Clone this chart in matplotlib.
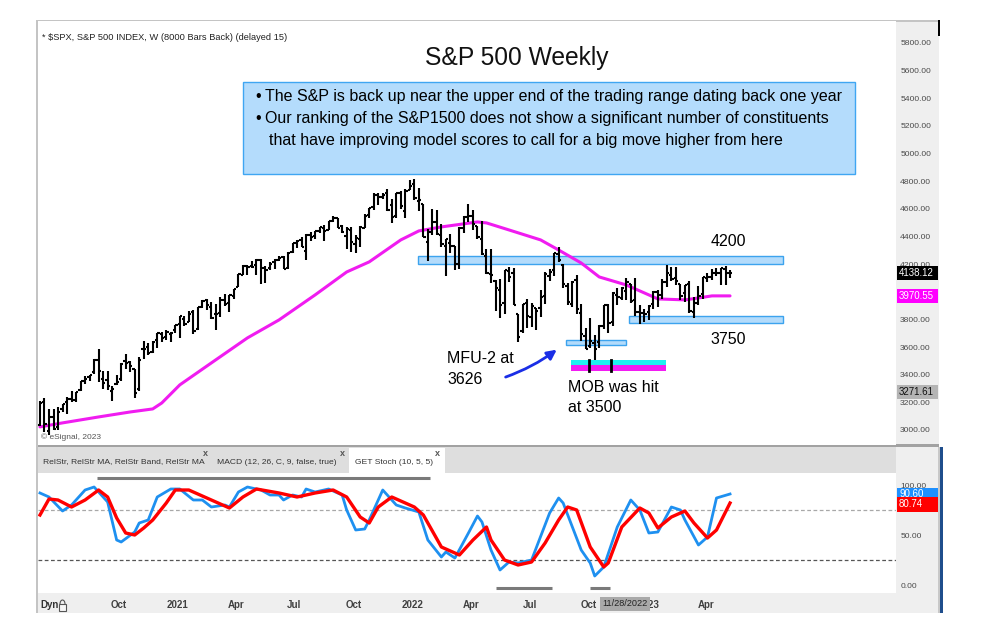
import pandas as pd
import matplotlib
matplotlib.use("Agg")
import matplotlib.pyplot as plt
from matplotlib import font_manager as fm
from matplotlib.collections import LineCollection
from matplotlib.patches import Rectangle, Arc, FancyArrowPatch

# weekly S&P 500 bars, first bar is the week of 2020-06-01
first_week = "2020-06-01"
opens = [
    3038, 3199, 2994, 3095, 3018, 3155, 3205, 3224, 3219, 3289,
    3356, 3380, 3419, 3509, 3371, 3363, 3285, 3334, 3367, 3500,
    3494, 3441, 3296, 3583, 3601, 3566, 3654, 3694, 3675, 3693,
    3723, 3764, 3803, 3781, 3856, 3732, 3892, 3939, 3886, 3842,
    3844, 3942, 3916, 3969, 4034, 4124, 4185, 4186, 4192, 4229,
    4169, 4170, 4216, 4230, 4248, 4173, 4285, 4356, 4372, 4296,
    4409, 4406, 4438, 4462, 4450, 4514, 4535, 4474, 4402, 4449,
    4348, 4385, 4464, 4553, 4610, 4701, 4689, 4712, 4628, 4548,
    4711, 4587, 4733, 4778, 4656, 4632, 4357, 4432, 4505, 4412,
    4332, 4354, 4328, 4202, 4462, 4541, 4547, 4474, 4385, 4256,
    4130, 4081, 4013, 3920, 4151, 4134, 3838, 3715, 3920, 3818,
    3880, 3883, 3966, 4113, 4155, 4270, 4195, 4041, 3909, 4084,
    3846, 3682, 3610, 3628, 3634, 3754, 3901, 3780, 3977, 3956,
    4005, 4053, 3939, 3853, 3843, 3853, 3911, 3999, 3979, 4070,
    4119, 4100, 4053, 3992, 4055, 3855, 3917, 3982, 4103, 4110,
    4139, 4134, 4166, 4136,
]
highs = [
    3211, 3233, 3155, 3155, 3165, 3187, 3236, 3280, 3272, 3352,
    3387, 3399, 3510, 3588, 3426, 3428, 3320, 3397, 3482, 3550,
    3502, 3441, 3529, 3646, 3628, 3644, 3701, 3712, 3726, 3712,
    3760, 3827, 3823, 3860, 3870, 3887, 3937, 3950, 3928, 3914,
    3960, 3983, 3978, 4020, 4130, 4191, 4195, 4219, 4238, 4238,
    4186, 4213, 4234, 4255, 4262, 4286, 4356, 4372, 4393, 4415,
    4430, 4440, 4469, 4480, 4510, 4546, 4536, 4485, 4466, 4466,
    4412, 4475, 4559, 4608, 4718, 4714, 4718, 4744, 4672, 4713,
    4732, 4740, 4808, 4819, 4749, 4632, 4453, 4596, 4590, 4490,
    4385, 4416, 4329, 4465, 4546, 4637, 4593, 4475, 4513, 4308,
    4307, 4082, 4090, 4158, 4178, 4169, 3838, 3913, 3946, 3919,
    3880, 4013, 4140, 4167, 4281, 4325, 4204, 4063, 4077, 4119,
    3913, 3736, 3807, 3685, 3762, 3905, 3912, 4001, 4029, 4034,
    4101, 4053, 4101, 3906, 3878, 3906, 4003, 4015, 4094, 4195,
    4176, 4176, 4053, 4048, 4079, 3965, 4039, 4110, 4133, 4164,
    4170, 4170, 4187, 4155,
]
lows = [
    3031, 2984, 2966, 2999, 2999, 3128, 3116, 3200, 3204, 3284,
    3329, 3354, 3405, 3349, 3293, 3292, 3209, 3323, 3354, 3440,
    3417, 3234, 3280, 3511, 3543, 3555, 3594, 3633, 3648, 3636,
    3704, 3663, 3749, 3779, 3694, 3726, 3884, 3866, 3805, 3723,
    3819, 3894, 3853, 3944, 4034, 4118, 4119, 4175, 4124, 4056,
    4061, 4155, 4167, 4220, 4165, 4165, 4279, 4320, 4321, 4233,
    4367, 4385, 4425, 4368, 4450, 4508, 4459, 4427, 4306, 4288,
    4279, 4323, 4459, 4537, 4595, 4630, 4672, 4586, 4495, 4532,
    4600, 4531, 4733, 4662, 4582, 4395, 4222, 4414, 4410, 4327,
    4115, 4279, 4157, 4161, 4425, 4507, 4450, 4381, 4269, 4128,
    4062, 3859, 3811, 3838, 4074, 3901, 3637, 3705, 3741, 3742,
    3721, 3818, 3911, 4080, 4117, 4218, 4029, 3907, 3887, 3838,
    3647, 3584, 3590, 3492, 3590, 3733, 3698, 3751, 3906, 3938,
    3937, 3918, 3827, 3764, 3784, 3794, 3877, 3886, 3950, 4037,
    4079, 4048, 3943, 3925, 3847, 3809, 3901, 3951, 4069, 4086,
    4114, 4049, 4048, 4099,
]
closes = [
    3193, 3041, 3097, 3009, 3130, 3185, 3224, 3215, 3271, 3351,
    3372, 3397, 3508, 3426, 3341, 3319, 3298, 3348, 3477, 3484,
    3465, 3270, 3509, 3585, 3558, 3638, 3699, 3663, 3709, 3703,
    3756, 3825, 3768, 3841, 3714, 3887, 3934, 3907, 3811, 3842,
    3943, 3913, 3975, 4020, 4129, 4185, 4180, 4181, 4233, 4174,
    4156, 4204, 4230, 4247, 4166, 4281, 4352, 4370, 4327, 4412,
    4395, 4437, 4468, 4442, 4509, 4535, 4459, 4433, 4455, 4357,
    4391, 4471, 4545, 4605, 4697, 4683, 4698, 4595, 4538, 4712,
    4620, 4726, 4766, 4677, 4663, 4398, 4432, 4501, 4419, 4349,
    4385, 4329, 4204, 4463, 4543, 4546, 4488, 4393, 4272, 4132,
    4123, 4024, 3901, 4158, 4109, 3901, 3675, 3912, 3825, 3899,
    3863, 3962, 4130, 4145, 4280, 4228, 4058, 3924, 4067, 3873,
    3693, 3586, 3640, 3583, 3753, 3901, 3771, 3993, 3965, 4026,
    4072, 3934, 3852, 3845, 3840, 3895, 3999, 3973, 4071, 4136,
    4090, 4079, 3970, 4046, 3862, 3917, 3971, 4109, 4105, 4138,
    4133, 4169, 4136, 4138,
]

# moving average (week index, value)
ma_weeks = [0, 5, 13, 20, 25, 27, 31, 38, 46, 53, 61, 68, 73, 80, 84, 89, 97, 99,
            104, 111, 115, 120, 124, 130, 135, 137, 143, 146, 149, 153]
ma_vals = [3022, 3051, 3094, 3130, 3152, 3195, 3326, 3485, 3666, 3796, 3977, 4143,
           4216, 4375, 4440, 4469, 4505, 4498, 4447, 4375, 4302, 4208, 4107, 4049,
           3977, 3948, 3941, 3955, 3970, 3970]

# GET Stoch (10, 5, 5): %K (blue) and %D (red)
k_weeks = [0, 2, 5, 7, 10, 12, 15, 17, 18, 21, 22, 24, 26, 29, 31, 34, 36, 38, 41, 42,
           44, 46, 49, 51, 53, 54, 56, 58, 59, 61, 64, 67, 68, 70, 72, 73, 76, 77, 79, 81,
           84, 86, 89, 90, 92, 95, 97, 98, 100, 102, 104, 106, 109, 113, 115, 116, 120,
           122, 123, 125, 128, 131, 133, 135, 137, 140, 142, 143, 146, 148, 150, 153]
k_vals = [92, 88, 74, 80, 95, 98, 83, 45, 43, 53, 62, 65, 88, 96, 96, 85, 85, 78, 80, 78,
          93, 98, 95, 90, 90, 85, 90, 88, 96, 93, 96, 90, 75, 55, 56, 65, 95, 90, 80, 77,
          73, 45, 28, 33, 27, 52, 69, 63, 35, 15, 23, 22, 25, 72, 87, 82, 35,
          22, 9, 18, 58, 85, 75, 52, 53, 78, 75, 65, 40, 48, 87, 91]
d_weeks = [0, 2, 4, 7, 10, 13, 15, 17, 19, 21, 23, 25, 28, 30, 33, 37, 42, 45, 48, 53,
           57, 61, 65, 68, 71, 73, 75, 78, 83, 85, 89, 93, 96, 99, 100, 103, 106, 109,
           112, 115, 117, 119, 122, 125, 126, 129, 133, 135, 137, 140, 143, 145, 148,
           150, 153]
d_vals = [70, 86, 85, 78, 85, 95, 88, 67, 52, 50, 57, 65, 82, 95, 95, 87, 77, 88, 96, 92,
          88, 92, 95, 88, 68, 62, 78, 88, 78, 70, 38, 30, 45, 58, 45, 25, 20, 23,
          42, 65, 78, 75, 38, 18, 22, 58, 77, 72, 57, 68, 74, 62, 47,
          55, 82]

# 4000.00 sits under the MA tag on the original, so it is left out
price_ticks = [3000, 3200, 3400, 3600, 3800, 4200, 4400, 4600, 4800, 5000,
               5200, 5400, 5600, 5800]
stoch_ticks = [0, 50, 100]
date_ticks = ["2020-10-01", "2021-01-01", "2021-04-01", "2021-07-01", "2021-10-01",
              "2022-01-01", "2022-04-01", "2022-07-01", "2022-10-01", "2023-01-01",
              "2023-04-01"]
date_labels = ["Oct", "2021", "Apr", "Jul", "Oct", "2022", "Apr", "Jul", "Oct", "2023", "Apr"]

# zones drawn on the chart: (low, high, start, end)
resistance = (4200, 4260, "2022-01-08", "2023-07-29")
support = (3775, 3825, "2022-12-02", "2023-07-29")
mfu_zone = (3615, 3651, "2022-08-26", "2022-11-28")
mob_cyan = (3470, 3506, "2022-09-03", "2023-01-29")
mob_magenta = (3427, 3470, "2022-09-03", "2023-01-29")
mob_marks = ["2022-10-01", "2022-11-04"]
overbought_runs = [("2020-08-28", "2022-01-27")]
oversold_runs = [("2022-05-10", "2022-08-05"), ("2022-10-03", "2022-11-03")]

last_price = 4138.12
last_ma = 3970.55
other_tag = 3271.61
last_k = 90.60
last_d = 80.74


def pick_font(names):
    for n in names:
        try:
            fm.findfont(fm.FontProperties(family=n), fallback_to_default=False)
            return n
        except ValueError:
            pass
    return "DejaVu Sans"


NARROW = pick_font(["Liberation Sans Narrow", "Arial Narrow", "Liberation Sans"])
SANS = pick_font(["Liberation Sans", "Arial"])
shrink = 1.0 if "Narrow" in NARROW else 0.86


def wk(d):
    return (pd.Timestamp(d) - pd.Timestamp(first_week)).days / 7.0


W, H = 985, 627
fig = plt.figure(figsize=(W / 100, H / 100), dpi=100)


def px_rect(x0, y0, x1, y1, color, z=-5):
    fig.add_artist(Rectangle((x0 / W, 1 - y1 / H), (x1 - x0) / W, (y1 - y0) / H,
                             transform=fig.transFigure, fc=color, ec="none", zorder=z))


def px_text(x, y, s, **kw):
    kw.setdefault("family", NARROW)
    return fig.text(x / W, 1 - y / H, s, **kw)


# panel backgrounds and frame
px_rect(896, 21, 939, 613, "#efefef")
px_rect(38, 593, 939, 613, "#efefef")
px_rect(38, 447, 896, 473, "#dedede")
px_rect(349, 448, 445, 473, "white")
px_rect(37, 444, 939, 447, "#a2a2a2")
px_rect(36, 20, 38, 613, "#c4c4c4")
px_rect(36, 20, 939, 22, "#c4c4c4")
px_rect(938, 20, 940, 36, "black", z=-4)
px_rect(938, 447, 939.5, 613, "#c8c8c8", z=-4)
px_rect(940, 447, 943, 613, "#1f4e8c", z=-4)

ax = fig.add_axes([38 / W, 1 - 445 / H, 858 / W, 424 / H])
ax2 = fig.add_axes([38 / W, 1 - 593 / H, 858 / W, 120 / H])
x_left, x_right = -0.44, 189.8
for a in (ax, ax2):
    a.set_xlim(x_left, x_right)
    for sp in a.spines.values():
        sp.set_visible(False)
    a.yaxis.tick_right()
    a.tick_params(axis="y", length=0, pad=3, labelsize=6.5 * shrink + 0.5, labelcolor="#4a4a4a")
ax.set_ylim(2891, 5959)
ax2.set_ylim(-8, 112)

ax.set_xticks([])
ax.set_yticks(price_ticks, [f"{v:.2f}" for v in price_ticks], family=SANS)
ax2.set_yticks(stoch_ticks, [f"{v:.2f}" for v in stoch_ticks], family=SANS)
ax2.set_xticks([wk(d) for d in date_ticks], date_labels, family=SANS, fontweight="bold")
ax2.tick_params(axis="x", length=0, pad=5, labelsize=7, labelcolor="#404040")


# zones
def zone(a, z, fc, ec, zorder=1):
    lo, hi, s, e = z
    a.add_patch(Rectangle((wk(s), lo), wk(e) - wk(s), hi - lo, fc=fc, ec=ec, lw=1, zorder=zorder))


zone(ax, resistance, "#b3dbfb", "#3ca3ee")
zone(ax, support, "#b3dbfb", "#3ca3ee")
zone(ax, mfu_zone, "#b3dbfb", "#3ca3ee")
zone(ax, mob_cyan, "#1ff0f0", "none", zorder=4)
zone(ax, mob_magenta, "#f21cf2", "none", zorder=4)
for d in mob_marks:
    ax.plot([wk(d), wk(d)], [mob_magenta[0], mob_cyan[1]], color="black", lw=2, zorder=5)

# moving average
ax.plot(ma_weeks, ma_vals, color="#f01cf0", lw=2.2, zorder=2, solid_capstyle="round")

# OHLC bars
segs = []
tick = 0.5
for i in range(len(closes)):
    segs.append([(i, lows[i]), (i, highs[i])])
    segs.append([(i - tick, opens[i]), (i, opens[i])])
    segs.append([(i, closes[i]), (i + tick, closes[i])])
ax.add_collection(LineCollection(segs, colors="black", linewidths=1.5, zorder=3))

# stochastic panel
ax2.axhline(75, color="#a8a8a8", lw=0.9, ls=(0, (3, 2)), zorder=1)
ax2.axhline(25, color="#555555", lw=0.9, ls=(0, (3, 2)), zorder=1)
ax2.plot(k_weeks, k_vals, color="#1e90f0", lw=2, zorder=3)
ax2.plot(d_weeks, d_vals, color="#ff0000", lw=2.4, zorder=4)
for s, e in overbought_runs:
    ax2.plot([wk(s), wk(e)], [107, 107], color="#7a7a7a", lw=2.2, solid_capstyle="butt")
for s, e in oversold_runs:
    ax2.plot([wk(s), wk(e)], [-3, -3], color="#7a7a7a", lw=2.2, solid_capstyle="butt")


def value_tag(a, v, label, fc, tc, h=14):
    fig.canvas.draw()
    y = fig.transFigure.inverted().transform(a.transData.transform((0, v)))[1] * H
    y = H - y
    px_rect(897, y - h / 2, 938, y + h / 2, fc, z=3)
    px_text(899, y, label, family=SANS, fontsize=7, color=tc, va="center", ha="left", zorder=4)


value_tag(ax, last_price, f"{last_price:.2f}", "black", "white")
value_tag(ax, last_ma, f"{last_ma:.2f}", "#ff00ff", "white")
value_tag(ax, other_tag, f"{other_tag:.2f}", "#b4b4b4", "#111111")
value_tag(ax2, last_k, f"{last_k:.2f}", "#1e90ff", "white", h=13)
value_tag(ax2, last_d, f"{last_d:.2f}", "#ff0000", "white", h=15)

# header, title and comment box
px_text(42, 37, "* $SPX, S&P 500 INDEX, W (8000 Bars Back) (delayed 15)", fontsize=6.7,
        color="#222222", va="center")
px_text(517, 58, "S&P 500 Weekly", fontsize=20.6 * shrink, color="#111111", ha="center", va="center")
px_rect(243, 82, 855, 174, "#b4dcfc", z=2)
fig.add_artist(Rectangle((243 / W, 1 - 174 / H), 612 / W, 92 / H, transform=fig.transFigure,
                         fc="none", ec="#3fa6f2", lw=1, zorder=2.5))
body = 13.4 * shrink
px_text(255, 96, "•", fontsize=body, va="center", zorder=3)
px_text(265, 96, "The S&P is back up near the upper end of the trading range dating back one year",
        fontsize=body, va="center", zorder=3)
px_text(255, 118, "•", fontsize=body, va="center", zorder=3)
px_text(265, 118, "Our ranking of the S&P1500 does not show a significant number of constituents",
        fontsize=body, va="center", zorder=3)
px_text(269, 140, "that have improving model scores to call for a big move higher from here",
        fontsize=body, va="center", zorder=3)

# annotations
px_text(728, 241, "4200", fontsize=body, ha="center", va="center", zorder=3)
px_text(728, 340, "3750", fontsize=body, ha="center", va="center", zorder=3)
px_text(447, 359, "MFU-2 at", fontsize=body, va="center", zorder=3)
px_text(447, 380, "3626", fontsize=body, va="center", zorder=3)
px_text(568, 387, "MOB was hit", fontsize=body, va="center", zorder=3)
px_text(568, 408, "at 3500", fontsize=body, va="center", zorder=3)
fig.add_artist(FancyArrowPatch(
    (503 / W, 1 - 378 / H), (559 / W, 1 - 348 / H), transform=fig.transFigure,
    arrowstyle="-|>", mutation_scale=14, color="#1a2ee6", lw=2,
    connectionstyle="arc3,rad=0.08", zorder=6))
px_text(41, 437, "© eSignal, 2023", fontsize=6, color="#555555", va="center", zorder=3)

# indicator tabs
tab_kw = dict(fontsize=6.1, color="#333333", va="center")
px_text(43, 462, "RelStr, RelStr MA, RelStr Band, RelStr MA", **tab_kw)
px_text(217, 462, "MACD (12, 26, C, 9, false, true)", **tab_kw)
px_text(355, 462, "GET Stoch (10, 5, 5)", **tab_kw)
for xc in (205, 342, 437):
    px_text(xc, 454, "x", fontsize=6.5, fontweight="bold", color="#555555", ha="center", va="center")

# bottom axis extras
px_text(40, 605, "Dyn", family=SANS, fontsize=7, fontweight="bold", color="#333333", va="center")
fig.add_artist(Rectangle((59 / W, 1 - 611 / H), 7 / W, 7 / H, transform=fig.transFigure,
                         fc="#f7f7f7", ec="#555555", lw=0.8, zorder=2))
fig.add_artist(Arc((62.5 / W, 1 - 604 / H), 5 / W, 8 / H, theta1=0, theta2=180,
                   transform=fig.transFigure, color="#555555", lw=0.8, zorder=2))
px_text(625, 604, "11/28/2022", family=SANS, fontsize=6.6, color="#222222", ha="center", va="center",
        zorder=5, bbox=dict(boxstyle="square,pad=0.3", fc="#a9a9a9", ec="none"))

fig.savefig("out.png", dpi=100)
